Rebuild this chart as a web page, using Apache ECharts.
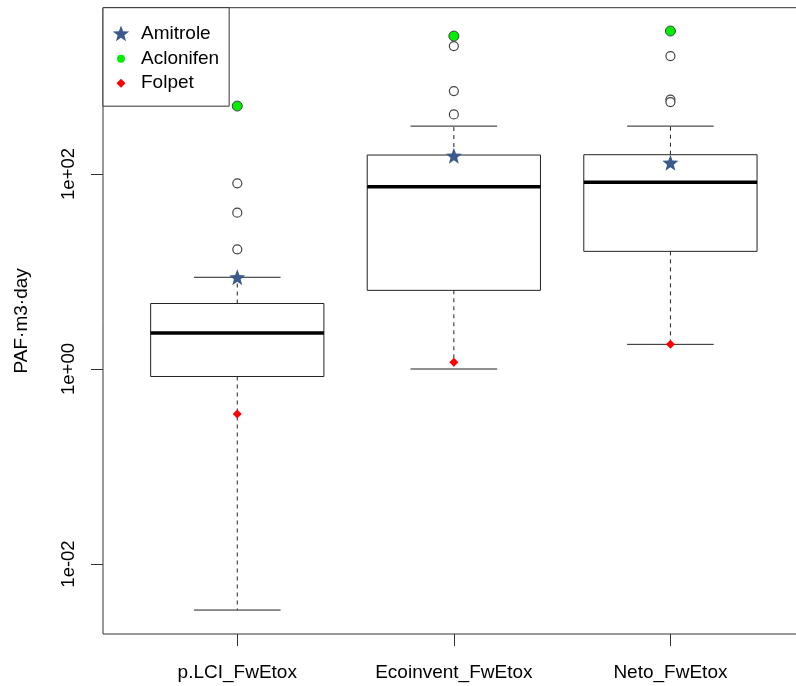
<!DOCTYPE html>
<html><head><meta charset="utf-8">
<script src="https://cdn.jsdelivr.net/npm/echarts@6/dist/echarts.min.js"></script>
<style>html,body{margin:0;padding:0;background:#fff}#c{width:796px;height:686px}</style>
</head><body><div id="c"></div>
<script>
// ---- data ----
const categories = ['p.LCI_FwEtox', 'Ecoinvent_FwEtox', 'Neto_FwEtox'];
const lowerWhisker = [0.00337, 1.0, 1.79];
const q1 = [0.838, 6.41, 16.1];
const median = [2.34, 74.1, 82.2];
const q3 = [4.70, 156.6, 157.8];
const upperWhisker = [8.73, 310, 310];
const outliers = [[80.3, 40.1, 16.9], [2055, 710, 409], [1622, 580, 547]];
const amitrole = [8.73, 154, 130.6];
const aclonifen = [498, 2600, 2930];
const folpet = [0.345, 1.17, 1.79];
const yTickValues = [0.01, 1, 100];
const yMin = 0.001914, yMax = 5082;

// ---- helpers ----
function starPath(cx, cy, R, r) {
  let d = '';
  for (let i = 0; i < 10; i++) {
    const rad = i % 2 === 0 ? R : r;
    const a = -Math.PI / 2 + i * Math.PI / 5;
    const x = cx + rad * Math.cos(a), y = cy + rad * Math.sin(a);
    d += (i === 0 ? 'M' : 'L') + x.toFixed(2) + ' ' + y.toFixed(2) + ' ';
  }
  return d + 'Z';
}
const starSym = 'path://' + starPath(10, 10, 10, 4.2);
const legendStar = 'path://M0 0 M20 20 ' + starPath(10, 10, 8.6, 3.6);
const legendDot = 'path://M0 0 M20 20 M6 10 A4 4 0 1 1 14 10 A4 4 0 1 1 6 10 Z';
const legendDiamond = 'path://M0 0 M20 20 M10 5.5 L14.5 10 L10 14.5 L5.5 10 Z';

function fmtExp(v) {
  const e = Math.round(Math.log10(v));
  const s = e < 0 ? '-' : '+';
  const a = Math.abs(e);
  return '1e' + s + (a < 10 ? '0' + a : '' + a);
}

const boxData = categories.map((c, i) => [i + 1, lowerWhisker[i], q1[i], median[i], q3[i], upperWhisker[i]]);
const outlierData = [];
outliers.forEach((arr, i) => arr.forEach(v => outlierData.push([i + 1, v])));
const pts = arr => arr.map((v, i) => [i + 1, v]);

const FONT = 'Liberation Sans, Arial, sans-serif';
const chart = echarts.init(document.getElementById('c'), null, {renderer: 'canvas'});
chart.setOption({
  animation: false,
  backgroundColor: '#fff',
  grid: {
    left: 103, width: 701.7, top: 7.7, height: 626.3,
    outerBoundsMode: 'none', containLabel: false,
    show: true, borderColor: '#333', borderWidth: 1, backgroundColor: 'transparent'
  },
  xAxis: {
    type: 'value', min: 0.38, max: 3.62,
    axisLine: {show: false},
    splitLine: {show: false},
    axisTick: {show: true, length: 12, lineStyle: {color: '#333'}, customValues: [1, 2, 3]},
    axisLabel: {
      customValues: [1, 2, 3], margin: 29,
      fontFamily: FONT, fontSize: 19, color: '#000',
      formatter: v => categories[Math.round(v) - 1]
    }
  },
  yAxis: {
    type: 'log', logBase: 10, min: yMin, max: yMax,
    axisLine: {show: false},
    splitLine: {show: false},
    minorTick: {show: false},
    axisTick: {show: true, length: 12, lineStyle: {color: '#333'}, customValues: yTickValues},
    axisLabel: {
      customValues: yTickValues, rotate: 90, margin: 25,
      fontFamily: FONT, fontSize: 18.5, color: '#000',
      formatter: v => fmtExp(v)
    },
    name: 'PAF·m3·day', nameLocation: 'middle', nameRotate: 90, nameGap: 72,
    nameTextStyle: {fontFamily: FONT, fontSize: 19, color: '#000'}
  },
  legend: {
    orient: 'vertical', left: 103, top: 7.7,
    padding: [16.5, 10, 13, 8],
    itemWidth: 30, itemHeight: 20, itemGap: 4.5,
    backgroundColor: '#fff', borderColor: '#333', borderWidth: 1, borderRadius: 0,
    textStyle: {fontFamily: FONT, fontSize: 19, color: '#000', lineHeight: 20},
    data: [
      {name: 'Amitrole', icon: legendStar},
      {name: 'Aclonifen', icon: legendDot, itemStyle: {borderWidth: 0}},
      {name: 'Folpet', icon: legendDiamond}
    ]
  },
  series: [
    {
      type: 'custom', name: 'box', silent: true,
      data: boxData,
      renderItem: function (params, api) {
        const x = api.value(0);
        const pLow = api.coord([x, api.value(1)]);
        const pQ1 = api.coord([x, api.value(2)]);
        const pMed = api.coord([x, api.value(3)]);
        const pQ3 = api.coord([x, api.value(4)]);
        const pUp = api.coord([x, api.value(5)]);
        const band = api.coord([x + 0.5, api.value(3)])[0] - api.coord([x - 0.5, api.value(3)])[0];
        const cx = pMed[0];
        const hb = band * 0.4, hc = band * 0.2;
        const lineStyle = {stroke: '#222', lineWidth: 1};
        return {
          type: 'group',
          children: [
            {type: 'line', shape: {x1: cx, y1: pQ3[1], x2: cx, y2: pUp[1]}, style: {stroke: '#222', lineWidth: 1, lineDash: [4, 4]}},
            {type: 'line', shape: {x1: cx, y1: pQ1[1], x2: cx, y2: pLow[1]}, style: {stroke: '#222', lineWidth: 1, lineDash: [4, 4]}},
            {type: 'line', shape: {x1: cx - hc, y1: pUp[1], x2: cx + hc, y2: pUp[1]}, style: lineStyle},
            {type: 'line', shape: {x1: cx - hc, y1: pLow[1], x2: cx + hc, y2: pLow[1]}, style: lineStyle},
            {type: 'rect', shape: {x: cx - hb, y: pQ3[1], width: 2 * hb, height: pQ1[1] - pQ3[1]}, style: {fill: '#fff', stroke: '#222', lineWidth: 1}},
            {type: 'line', shape: {x1: cx - hb, y1: pMed[1], x2: cx + hb, y2: pMed[1]}, style: {stroke: '#000', lineWidth: 3.5}}
          ]
        };
      }
    },
    {
      type: 'scatter', name: 'outliers', data: outlierData,
      symbol: 'circle', symbolSize: 9,
      itemStyle: {color: '#fff', borderColor: '#444', borderWidth: 1.2, opacity: 1}
    },
    {
      type: 'scatter', name: 'Amitrole', data: pts(amitrole),
      symbol: starSym, symbolSize: 16,
      itemStyle: {color: '#3C5A8C', opacity: 1}
    },
    {
      type: 'scatter', name: 'Aclonifen', data: pts(aclonifen),
      symbol: 'circle', symbolSize: 10,
      itemStyle: {color: '#00EE00', borderColor: '#444', borderWidth: 1, opacity: 1}
    },
    {
      type: 'scatter', name: 'Folpet', data: pts(folpet),
      symbol: 'diamond', symbolSize: 9,
      itemStyle: {color: '#FF0000', opacity: 1}
    }
  ]
});
</script>
</body></html>
